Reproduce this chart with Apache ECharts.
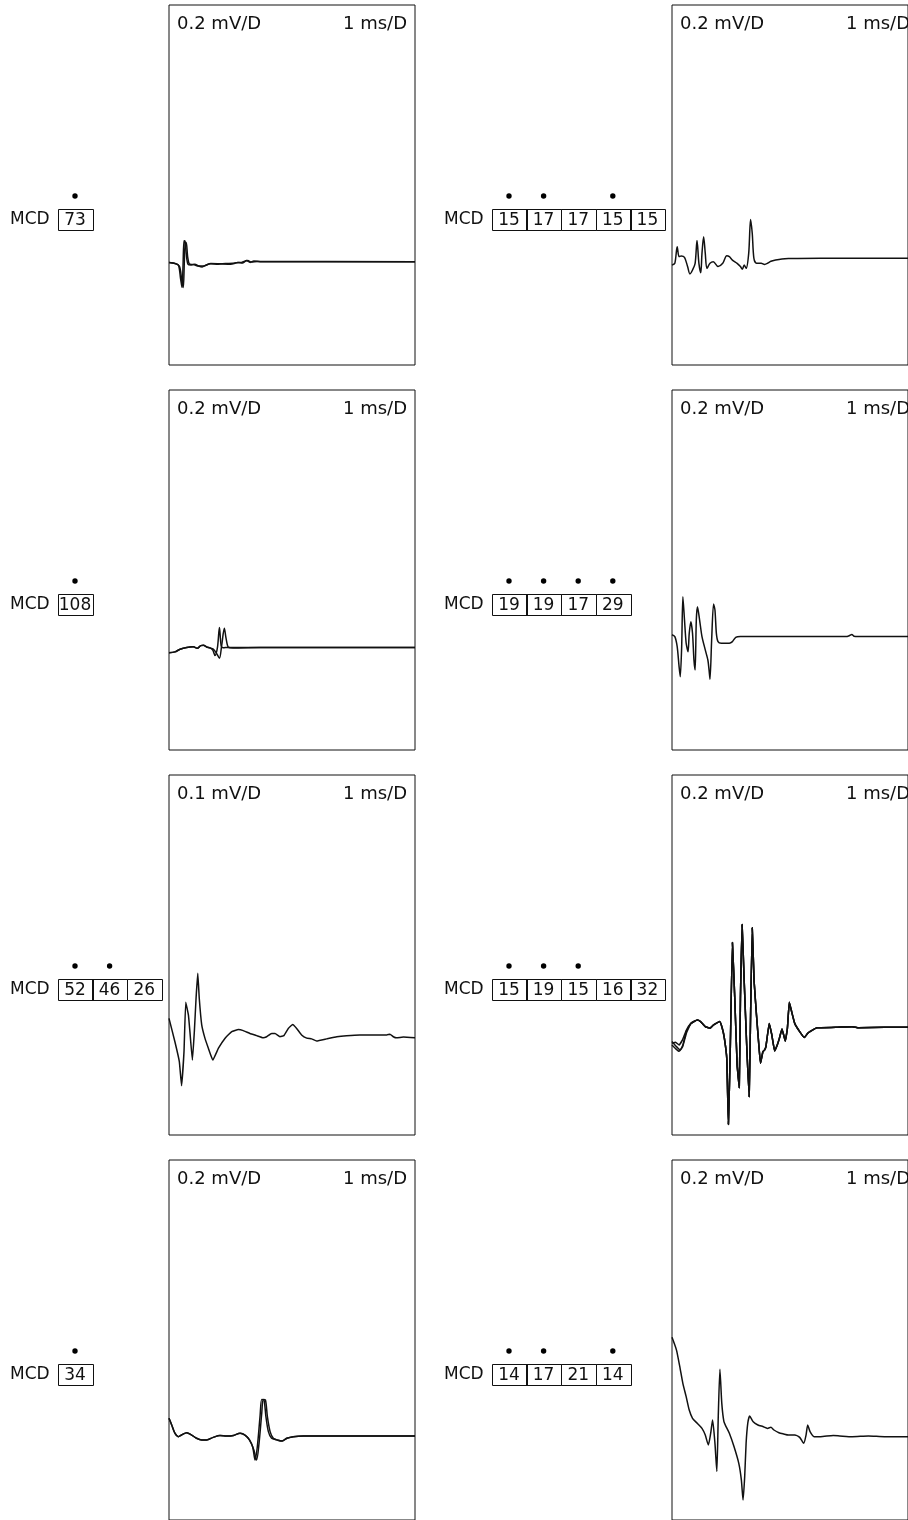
<!DOCTYPE html>
<html>
<head>
<meta charset="utf-8" />
<title>MCD</title>
<script src="https://cdn.jsdelivr.net/npm/echarts@6/dist/echarts.min.js"></script>
<style>
  html, body { margin: 0; padding: 0; background: #fff; }
  #chart { width: 908px; height: 1520px; }
</style>
</head>
<body>
<div id="chart"></div>
<script>
// time in ms, amplitude in mV
var p1a = [[0,-0.03],[0.18,-0.033],[0.38,-0.045],[0.47,-0.12],[0.53,-0.17],[0.57,-0.05],[0.61,0.09],[0.65,0.088],[0.7,0.02],[0.77,-0.04],[0.9,-0.045],[1.05,-0.04],[1.2,-0.05],[1.35,-0.055],[1.5,-0.045],[1.7,-0.038],[2.0,-0.04],[2.3,-0.036],[2.6,-0.035],[2.8,-0.03],[3.0,-0.033],[3.15,-0.02],[3.3,-0.03],[3.45,-0.022],[3.7,-0.026],[10,-0.026]];
var p1b = [[0,-0.03],[0.2,-0.035],[0.42,-0.05],[0.52,-0.13],[0.58,-0.17],[0.62,-0.04],[0.66,0.08],[0.7,0.08],[0.76,0.0],[0.84,-0.04],[1.0,-0.042],[1.2,-0.05],[1.4,-0.05],[1.7,-0.036],[2.1,-0.038],[2.5,-0.04],[2.75,-0.032],[2.95,-0.03],[3.2,-0.02],[3.35,-0.028],[3.6,-0.025],[10,-0.026]];

var p2 = [[0,-0.045],[0.12,-0.035],[0.22,0.057],[0.3,0.002],[0.39,0.006],[0.53,-0.002],[0.66,-0.053],[0.76,-0.094],[0.87,-0.072],[0.98,-0.035],[1.06,0.091],[1.14,-0.035],[1.22,-0.087],[1.27,0.02],[1.34,0.113],[1.41,0.02],[1.48,-0.063],[1.61,-0.035],[1.75,-0.026],[1.95,-0.053],[2.15,-0.035],[2.32,0.007],[2.43,0.002],[2.56,-0.017],[2.76,-0.035],[2.9,-0.053],[2.98,-0.068],[3.06,-0.044],[3.14,-0.063],[3.25,0.02],[3.33,0.209],[3.4,0.132],[3.47,-0.007],[3.58,-0.035],[3.78,-0.035],[3.92,-0.041],[4.05,-0.035],[4.19,-0.024],[4.39,-0.017],[4.66,-0.011],[4.93,-0.009],[6.3,-0.007],[10,-0.007]];

var p3Start = [[0,-0.06],[0.24,-0.055],[0.45,-0.04],[0.72,-0.03],[0.99,-0.027],[1.15,-0.035],[1.29,-0.02],[1.4,-0.018],[1.53,-0.028],[1.67,-0.033]];
var p3aTail = [[1.78,-0.045],[1.87,-0.075],[1.97,-0.03],[2.05,0.08],[2.12,-0.02],[2.2,-0.032],[2.4,-0.03],[3.7,-0.031],[10,-0.03]];
var p3bTail = [[1.8,-0.04],[1.92,-0.06],[2.05,-0.09],[2.14,-0.02],[2.25,0.076],[2.32,0.02],[2.42,-0.03],[2.6,-0.033],[3.7,-0.031],[10,-0.03]];

var p4 = [[0,0.04],[0.12,0.03],[0.22,-0.026],[0.3,-0.137],[0.35,-0.193],[0.41,-0.026],[0.46,0.252],[0.53,0.122],[0.6,-0.007],[0.68,-0.054],[0.73,0.048],[0.8,0.113],[0.87,0.048],[0.93,-0.1],[0.98,-0.155],[1.03,0.122],[1.08,0.196],[1.17,0.122],[1.27,0.03],[1.41,-0.044],[1.52,-0.1],[1.57,-0.155],[1.61,-0.207],[1.68,0.011],[1.76,0.211],[1.82,0.178],[1.88,0.048],[1.95,0.002],[2.09,-0.007],[2.43,-0.007],[2.56,0.002],[2.7,0.026],[2.9,0.03],[4.93,0.03],[7.37,0.03],[7.51,0.035],[7.62,0.042],[7.71,0.032],[7.91,0.03],[10,0.03]];

var p5 = [[0,0.024],[0.24,-0.041],[0.42,-0.096],[0.51,-0.163],[0.61,-0.068],[0.68,0.069],[0.79,0.033],[0.85,-0.013],[0.95,-0.092],[1.03,-0.013],[1.1,0.08],[1.17,0.149],[1.23,0.08],[1.33,0.006],[1.46,-0.031],[1.6,-0.059],[1.78,-0.092],[2.01,-0.059],[2.28,-0.031],[2.55,-0.013],[2.82,-0.007],[3.02,-0.01],[3.29,-0.018],[3.56,-0.024],[3.83,-0.03],[3.97,-0.027],[4.17,-0.018],[4.31,-0.018],[4.51,-0.027],[4.67,-0.024],[4.85,-0.004],[5.03,0.007],[5.19,-0.004],[5.39,-0.022],[5.6,-0.031],[5.8,-0.033],[6.0,-0.039],[6.41,-0.033],[6.82,-0.027],[7.22,-0.024],[7.76,-0.022],[8.85,-0.022],[8.98,-0.02],[9.12,-0.027],[9.25,-0.03],[9.53,-0.028],[10,-0.03]];

var p6aStart = [[0,-0.08],[0.19,-0.109],[0.35,-0.128],[0.46,-0.1],[0.6,-0.026]];
var p6bStart = [[0,-0.1],[0.15,-0.12],[0.3,-0.135],[0.45,-0.11],[0.62,-0.03]];
var p6cStart = [[0,-0.09],[0.15,-0.085],[0.3,-0.1],[0.45,-0.07],[0.6,-0.02]];
var p6Tail = [[0.8,0.02],[1.07,0.039],[1.21,0.03],[1.41,0.002],[1.61,-0.007],[1.75,0.011],[2.02,0.03],[2.13,-0.007],[2.22,-0.063],[2.32,-0.174],[2.39,-0.541],[2.47,-0.118],[2.56,0.469],[2.66,0.159],[2.76,-0.211],[2.85,-0.337],[2.9,0.159],[2.97,0.57],[3.06,0.252],[3.17,-0.118],[3.27,-0.387],[3.33,0.067],[3.4,0.552],[3.48,0.252],[3.58,0.067],[3.69,-0.118],[3.75,-0.202],[3.85,-0.137],[3.92,-0.128],[3.98,-0.109],[4.12,0.02],[4.23,-0.044],[4.35,-0.133],[4.46,-0.1],[4.55,-0.063],[4.66,-0.011],[4.73,-0.044],[4.8,-0.078],[4.89,-0.007],[4.97,0.137],[5.07,0.085],[5.2,0.02],[5.41,-0.026],[5.61,-0.059],[5.75,-0.035],[5.95,-0.017],[6.15,-0.004],[6.94,-0.002],[7.64,0.002],[7.91,-0.004],[9.0,-0.002],[10,-0.002]];

var p7Start = [[0,-0.035],[0.11,-0.072],[0.24,-0.118],[0.38,-0.137],[0.51,-0.128],[0.72,-0.115],[0.92,-0.128],[1.12,-0.146],[1.33,-0.155],[1.53,-0.155],[1.8,-0.141],[2.07,-0.131],[2.34,-0.133],[2.62,-0.13],[2.89,-0.118],[3.09,-0.128],[3.27,-0.155]];
var p7aTail = [[3.4,-0.193],[3.5,-0.267],[3.59,-0.193],[3.7,-0.026],[3.77,0.07],[3.86,0.067],[3.94,-0.026],[4.04,-0.109],[4.17,-0.146],[4.38,-0.155],[4.58,-0.161],[4.78,-0.146],[5.05,-0.137],[5.46,-0.133],[6.41,-0.133],[10,-0.133]];
var p7bTail = [[3.45,-0.211],[3.56,-0.267],[3.66,-0.174],[3.77,-0.007],[3.83,0.07],[3.92,0.067],[4.0,-0.026],[4.11,-0.109],[4.24,-0.146],[4.4,-0.155],[4.6,-0.161],[4.8,-0.146],[5.05,-0.137],[5.46,-0.133],[6.41,-0.133],[10,-0.133]];

var p8 = [[0,0.415],[0.19,0.344],[0.33,0.252],[0.46,0.159],[0.6,0.085],[0.73,0.011],[0.87,-0.035],[1.07,-0.063],[1.27,-0.091],[1.41,-0.128],[1.54,-0.183],[1.64,-0.118],[1.72,-0.044],[1.82,-0.174],[1.9,-0.331],[1.96,-0.026],[2.03,0.237],[2.11,0.048],[2.2,-0.054],[2.29,-0.081],[2.43,-0.118],[2.63,-0.193],[2.83,-0.285],[2.94,-0.378],[3.01,-0.489],[3.08,-0.359],[3.14,-0.174],[3.21,-0.063],[3.29,-0.022],[3.44,-0.054],[3.64,-0.072],[3.85,-0.081],[4.05,-0.091],[4.19,-0.085],[4.32,-0.1],[4.53,-0.115],[4.73,-0.122],[4.93,-0.128],[5.2,-0.128],[5.41,-0.141],[5.58,-0.174],[5.68,-0.128],[5.75,-0.072],[5.85,-0.109],[6.02,-0.137],[6.29,-0.137],[6.83,-0.131],[7.1,-0.133],[7.64,-0.137],[8.32,-0.133],[9.0,-0.137],[10,-0.137]];

// panels go row by row, left then right
var traces = [
  [p1a, p1b],
  [p2],
  [p3Start.concat(p3aTail), p3Start.concat(p3bTail)],
  [p4],
  [p5],
  [p6aStart.concat(p6Tail), p6bStart.concat(p6Tail), p6cStart.concat(p6Tail)],
  [p7Start.concat(p7aTail), p7Start.concat(p7bTail)],
  [p8]
];
var gains = [0.2, 0.2, 0.2, 0.2, 0.1, 0.2, 0.2, 0.2];   // mV per division
var sweep = '1 ms/D';
var mcdValues = [[73], [15, 17, 17, 15, 15], [108], [19, 19, 17, 29], [52, 46, 26], [15, 19, 15, 16, 32], [34], [14, 17, 21, 14]];
var mcdMarked = [[1], [1, 1, 0, 1, 0], [1], [1, 1, 1, 1], [1, 1, 0], [1, 1, 1, 0, 0], [1], [1, 1, 0, 1]];
var smoothing = [0.3, 0.3, 0.3, 0.25, 0.1, 0.1, 0.3, 0.2];

var FONT = '"DejaVu Sans", sans-serif';
var INK = '#111';
var panelW = 246, panelH = 360, rowStep = 385;
var colLeft = [169, 672];
var labelLeft = [10, 444];
var boxW = 34.6;

var myChart = echarts.init(document.getElementById('chart'), null, { renderer: 'canvas' });

var grids = [], xAxes = [], yAxes = [], series = [], graphics = [];

for (var i = 0; i < traces.length; i++) {
  var row = Math.floor(i / 2), col = i % 2;
  var gx = colLeft[col], gy = 5 + row * rowStep;
  var yMin = gains[i] == 0.1 ? -0.3 : -0.6;
  grids.push({
    left: gx, top: gy, width: panelW, height: row == 3 ? panelH + 4 : panelH,
    show: true, borderColor: INK, borderWidth: 1, backgroundColor: 'transparent'
  });
  xAxes.push({ type: 'value', gridIndex: i, min: 0, max: 10, show: false });
  yAxes.push({ type: 'value', gridIndex: i, min: yMin, max: yMin + gains[i] * 10, show: false });

  for (var k = 0; k < traces[i].length; k++) {
    series.push({
      type: 'line', xAxisIndex: i, yAxisIndex: i, data: traces[i][k],
      symbol: 'none', smooth: smoothing[i], silent: true, animation: false,
      lineStyle: { color: INK, width: 1.5 }
    });
  }

  // gain / sweep captions
  graphics.push({
    type: 'text', x: gx + 8, y: gy + 19,
    style: { text: gains[i].toFixed(1) + ' mV/D', font: '18px ' + FONT, fill: INK, textAlign: 'left', textVerticalAlign: 'middle' }
  });
  graphics.push({
    type: 'text', x: gx + panelW - 8, y: gy + 19,
    style: { text: sweep, font: '18px ' + FONT, fill: INK, textAlign: 'right', textVerticalAlign: 'middle' }
  });

  // MCD boxes
  var ly = gy + 215;
  graphics.push({
    type: 'text', x: labelLeft[col], y: ly,
    style: { text: 'MCD', font: '17px ' + FONT, fill: INK, textAlign: 'left', textVerticalAlign: 'middle' }
  });
  var bx0 = labelLeft[col] + 47.7;
  for (var j = 0; j < mcdValues[i].length; j++) {
    var bx = bx0 + j * boxW;
    graphics.push({
      type: 'rect',
      shape: { x: Math.round(bx) + 0.5, y: Math.round(ly - 11) + 0.5, width: Math.round(boxW), height: 21 },
      style: { fill: 'none', stroke: INK, lineWidth: 1 }
    });
    graphics.push({
      type: 'text', x: bx + boxW / 2, y: ly + 0.5,
      style: { text: String(mcdValues[i][j]), font: '17px ' + FONT, fill: INK, textAlign: 'center', textVerticalAlign: 'middle' }
    });
    if (mcdMarked[i][j]) {
      graphics.push({
        type: 'circle', shape: { cx: bx + boxW / 2, cy: ly - 24, r: 2.7 },
        style: { fill: '#000' }
      });
    }
  }
}

var option = {
  backgroundColor: '#fff',
  animation: false,
  grid: grids,
  xAxis: xAxes,
  yAxis: yAxes,
  series: series,
  graphic: graphics
};
myChart.setOption(option);
</script>
</body>
</html>
